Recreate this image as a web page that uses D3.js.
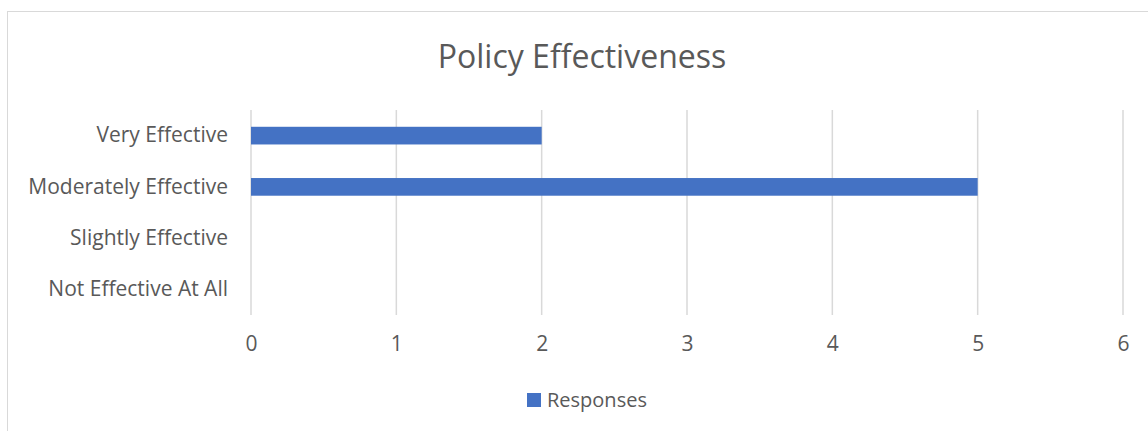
<!DOCTYPE html>
<html>
<head>
<meta charset="utf-8">
<script src="https://cdn.jsdelivr.net/npm/d3@7"></script>
<style>
  body { margin: 0; background: #fff; }
  svg text { font-family: "Open Sans", sans-serif; fill: #595959; }
</style>
</head>
<body>
<svg id="chart" width="1148" height="431"></svg>
<script>
// data
const categories = ["Very Effective", "Moderately Effective", "Slightly Effective", "Not Effective At All"];
const responses = [2, 5, 0, 0];
const xTicks = [0, 1, 2, 3, 4, 5, 6];
const seriesName = "Responses";
const title = "Policy Effectiveness";

const svg = d3.select("#chart");
const plot = {left: 251, right: 1123, top: 110, bottom: 315};

// chart frame (runs off the right and bottom edge)
svg.append("rect")
    .attr("x", 7.5).attr("y", 11.5)
    .attr("width", 1160).attr("height", 440)
    .attr("fill", "#fff")
    .attr("stroke", "#d9d9d9");

const xScale = d3.scaleLinear()
    .domain([0, 6])
    .range([plot.left, plot.right]);

const yScale = d3.scaleBand()
    .domain(categories)
    .range([plot.top, plot.bottom])
    .paddingInner(0.655)
    .paddingOuter(0.3275);

// gridlines
svg.append("g").selectAll("line")
    .data(xTicks)
    .enter().append("line")
    .attr("x1", d => xScale(d)).attr("x2", d => xScale(d))
    .attr("y1", plot.top).attr("y2", plot.bottom)
    .attr("stroke", "#d9d9d9")
    .attr("stroke-width", 1.5);

// bars
svg.append("g").selectAll("rect")
    .data(categories.map((c, i) => ({key: c, value: responses[i]})))
    .enter().append("rect")
    .attr("x", xScale(0))
    .attr("y", d => yScale(d.key))
    .attr("width", d => xScale(d.value) - xScale(0))
    .attr("height", yScale.bandwidth())
    .attr("fill", "#4472c4");

// category labels
const yAxis = svg.append("g")
    .attr("transform", `translate(${plot.left},0)`)
    .call(d3.axisLeft(yScale).tickSize(0).tickPadding(23));
yAxis.select(".domain").remove();
yAxis.selectAll(".tick text")
    .style("font-size", "21px")
    .attr("fill", "#595959");

// value labels
const xAxis = svg.append("g")
    .attr("transform", `translate(0,${plot.bottom})`)
    .call(d3.axisBottom(xScale).tickValues(xTicks).tickFormat(d3.format("d")).tickSize(0).tickPadding(21));
xAxis.select(".domain").remove();
xAxis.selectAll(".tick text")
    .style("font-size", "21px")
    .attr("fill", "#595959");

// title
svg.append("text")
    .attr("x", 582).attr("y", 68)
    .attr("text-anchor", "middle")
    .style("font-size", "32px")
    .text(title);

// legend
const legend = svg.append("g");
legend.append("rect")
    .attr("x", 527).attr("y", 393)
    .attr("width", 14).attr("height", 14)
    .attr("fill", "#4472c4");
legend.append("text")
    .attr("x", 547).attr("y", 407)
    .style("font-size", "20px")
    .text(seriesName);
</script>
</body>
</html>
